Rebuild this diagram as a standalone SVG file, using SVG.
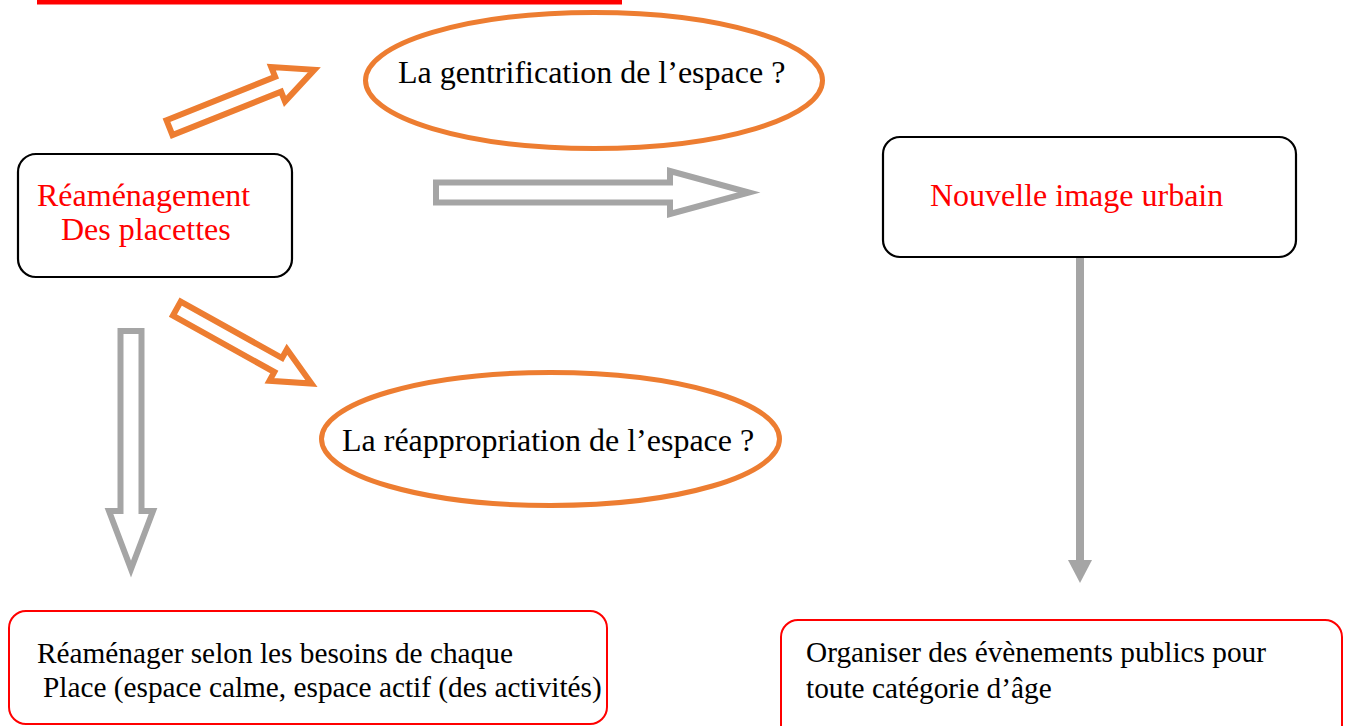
<svg xmlns="http://www.w3.org/2000/svg" width="1350" height="726" viewBox="0 0 1350 726">
  <style>
    .t { font-family: "Liberation Serif", "Times New Roman", serif; }
    .big { font-size: 32px; }
    .small { font-size: 29.3px; }
    .blk { fill: #000000; }
    .red { fill: #FF0000; }
    .box { fill: #FFFFFF; stroke: #000000; stroke-width: 2.2; }
    .rbox { fill: #FFFFFF; stroke: #FF0000; stroke-width: 2; }
    .ell { fill: #FFFFFF; stroke: #ED7D31; stroke-width: 5; }
    .oarrow { fill: #FFFFFF; stroke: #ED7D31; stroke-width: 6; stroke-miterlimit: 10; }
    .garrow { fill: #FFFFFF; stroke: #A5A5A5; stroke-width: 6; stroke-miterlimit: 10; }
  </style>
  <rect width="1350" height="726" fill="#FFFFFF"/>
  <rect id="topbar" x="37" y="0" width="585" height="4.5" fill="#FF0000"/>

  <g id="connectors">
    <polygon class="oarrow" transform="translate(166.7,128.8) rotate(-21.8)" points="3,-8 120,-8 120,-18.5 159,0 120,18.5 120,8 3,8"/>
    <polygon class="oarrow" transform="translate(174.2,307.2) rotate(29.07)" points="3,-8 119,-8 119,-18 157,0 119,18 119,8 3,8"/>
    <polygon class="garrow" points="436,182.5 670,182.5 670,171 749,192.5 670,214 670,202.5 436,202.5"/>
    <polygon class="garrow" points="120.5,331 120.5,511 109,511 131,569 153,511 141.5,511 141.5,331"/>
    <line x1="1080" y1="258" x2="1080" y2="562" stroke="#A5A5A5" stroke-width="8"/>
    <polygon points="1068,560 1092,560 1080,583" fill="#A5A5A5"/>
  </g>

  <g id="gentrification">
    <ellipse class="ell" cx="594" cy="80.5" rx="228.5" ry="68"/>
    <text class="t big blk" x="398" y="83">La gentrification de l’espace ?</text>
  </g>

  <g id="reamenagement">
    <rect class="box" x="18" y="154" width="274" height="123" rx="18"/>
    <text class="t big red" x="37" y="206">Réaménagement</text>
    <text class="t big red" x="61" y="240">Des placettes</text>
  </g>

  <g id="nouvelle-image">
    <rect class="box" x="883" y="137" width="413" height="120" rx="17"/>
    <text class="t big red" x="930" y="206">Nouvelle image urbain</text>
  </g>

  <g id="reappropriation">
    <ellipse class="ell" cx="550.5" cy="439" rx="229" ry="66.5"/>
    <text class="t big blk" x="342" y="451">La réappropriation de l’espace ?</text>
  </g>

  <g id="reamenager">
    <rect class="rbox" x="9" y="611" width="598" height="113" rx="17"/>
    <text class="t small blk" x="37" y="663">Réaménager selon les besoins de chaque</text>
    <text class="t small blk" x="43" y="697">Place (espace calme, espace actif (des activités)</text>
  </g>

  <g id="organiser">
    <rect class="rbox" x="781" y="620" width="561" height="130" rx="17"/>
    <text class="t small blk" x="806" y="662">Organiser des évènements publics pour</text>
    <text class="t small blk" x="806" y="698">toute catégorie d’âge</text>
  </g>
</svg>
